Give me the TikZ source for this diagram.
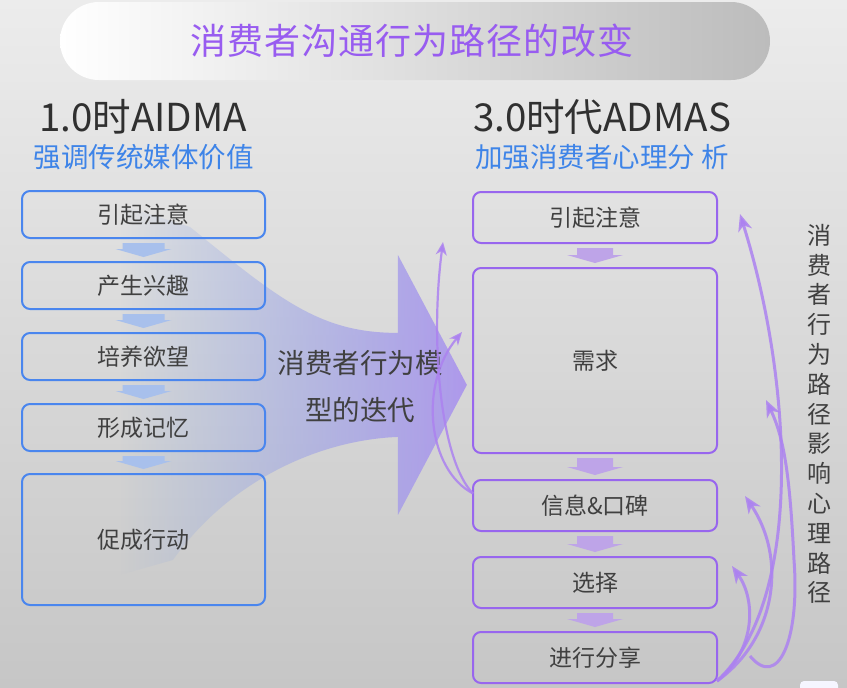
\documentclass[tikz,border=0pt]{standalone}
\usepackage{fontspec}
\setmainfont{Noto Sans CJK SC}
\usetikzlibrary{arrows.meta,calc,fadings}

\definecolor{bgtop}{RGB}{236,236,236}
\definecolor{bgbot}{RGB}{198,198,198}
\definecolor{pillgray}{RGB}{188,188,188}
\definecolor{titlepurple}{RGB}{152,92,240}
\definecolor{headgray}{RGB}{48,48,48}
\definecolor{subblue}{RGB}{62,132,232}
\definecolor{txtgray}{RGB}{64,64,64}
\definecolor{lblue}{RGB}{74,134,238}
\definecolor{rpurple}{RGB}{152,102,238}
\definecolor{larrowc}{RGB}{168,192,236}
\definecolor{rarrowc}{RGB}{190,164,232}
\definecolor{fanblue}{RGB}{125,162,230}
\definecolor{fanmid}{RGB}{134,168,228}
\definecolor{fanpurple}{RGB}{172,150,236}
\definecolor{pline}{RGB}{172,130,240}

\tikzfading[name=fanfade,
  left color=transparent!100,
  middle color=transparent!20,
  right color=transparent!5]

\begin{document}
\begin{tikzpicture}[
  x=1pt, y=-1pt,
  lbox/.style={draw=lblue, line width=2pt, rounded corners=8pt,
    minimum width=243pt, text=txtgray, font=\fontsize{23}{26}\selectfont},
  rbox/.style={draw=rpurple, line width=2pt, rounded corners=8pt,
    minimum width=244pt, text=txtgray, font=\fontsize{23}{26}\selectfont},
  larrow/.style={fill=larrowc},
  rarrow/.style={fill=rarrowc},
  parrow/.style={draw=pline, draw opacity=0.85, line width=2.2pt,
    -{Stealth[length=13pt,width=11pt,inset=4pt]}},
  bigparrow/.style={draw=pline, draw opacity=0.85, line width=3pt,
    -{Stealth[length=17pt,width=14pt,inset=5pt]}}
  ]
  \useasboundingbox (0,0) rectangle (847,688);
  \shade[top color=bgtop, bottom color=bgbot] (0,0) rectangle (847,688);

  % title
  \shade[left color=white, right color=pillgray, rounded corners=39pt]
    (60,2) rectangle (770,80);
  \node[text=titlepurple, font=\fontsize{36}{40}\selectfont] (title) at (412,41)
    {\addfontfeature{LetterSpace=3}消费者沟通行为路径的改变};

  % headers
  \node[text=headgray, font=\fontsize{38.5}{42}\selectfont] (lhead) at (143,117) {1.0时AIDMA};
  \node[text=subblue, font=\fontsize{27.5}{30}\selectfont] (lsub) at (144,157) {强调传统媒体价值};
  \node[text=headgray, font=\fontsize{38.5}{42}\selectfont] (rhead) at (602,117) {3.0时代ADMAS};
  \node[text=subblue, font=\fontsize{27.5}{30}\selectfont] (rsub) at (602,157) {加强消费者心理分 析};

  % fan arrow
  \shade[left color=fanblue, middle color=fanmid, right color=fanpurple,
    path fading=fanfade]
    (120,205) -- (190,227) .. controls (280,300) and (320,333) .. (398,333)
    -- (398,255) -- (467,385) -- (398,515) -- (398,437)
    .. controls (320,440) and (230,480) .. (173,560) -- (120,575) -- cycle;
  \node[text=txtgray, align=center, font=\fontsize{27.5}{47}\selectfont] (fantext)
    at (360,387) {消费者行为模\\型的迭代};

  % left column
  \node[lbox, minimum height=47pt] (l1) at (143.5,214.5) {引起注意};
  \node[lbox, minimum height=47pt] (l2) at (143.5,285.5) {产生兴趣};
  \node[lbox, minimum height=47pt] (l3) at (143.5,356.5) {培养欲望};
  \node[lbox, minimum height=47pt] (l4) at (143.5,427.5) {形成记忆};
  \node[lbox, minimum height=131pt] (l5) at (143.5,539.5) {促成行动};

  % right column
  \node[rbox, minimum height=51pt] (r1) at (595,217.5) {引起注意};
  \node[rbox, minimum height=185pt] (r2) at (595,360.5) {需求};
  \node[rbox, minimum height=51pt] (r3) at (595,505.5) {信息\&口碑};
  \node[rbox, minimum height=51pt] (r4) at (595,582.5) {选择};
  \node[rbox, minimum height=51pt] (r5) at (595,657.5) {进行分享};

  \foreach \a/\b in {l1/l2,l2/l3,l3/l4,l4/l5}
    \fill[larrow] ($(\a.south)+(-21,4)$) -- ($(\a.south)+(21,4)$)
      -- ($(\b.north)+(21,-12)$) -- ($(\b.north)+(28,-12)$) -- ($(\b.north)+(0,-4)$)
      -- ($(\b.north)+(-28,-12)$) -- ($(\b.north)+(-21,-12)$) -- cycle;
  \foreach \a/\b in {r1/r2,r2/r3,r3/r4,r4/r5}
    \fill[rarrow] ($(\a.south)+(-18,4)$) -- ($(\a.south)+(18,4)$)
      -- ($(\b.north)+(18,-12)$) -- ($(\b.north)+(28,-12)$) -- ($(\b.north)+(0,-4)$)
      -- ($(\b.north)+(-28,-12)$) -- ($(\b.north)+(-18,-12)$) -- cycle;

  % feedback arrows
  \coordinate (fromr3) at ($(r3.west)+(1,-12)$);
  \coordinate (fromr5) at ($(r5.south east)+(-1,-3)$);
  \coordinate (tipa) at (443,242);
  \coordinate (tipb) at (462,332);
  \coordinate (tipc) at (740,214);
  \coordinate (tipd) at (766,400);
  \coordinate (tipe) at (745,496);
  \coordinate (tipf) at (732,566);
  \coordinate (loopstart) at (750,656);
  \draw[parrow] (fromr3) .. controls (440,460) and (430,340) .. (tipa);
  \draw[parrow] (fromr3) .. controls (428,470) and (418,385) .. (tipb);
  \draw[bigparrow] (fromr5) .. controls (805,600) and (792,380) .. (tipc);
  \draw[bigparrow] (loopstart) .. controls (778,690) and (800,640) .. (794,560)
    .. controls (790,480) and (785,440) .. (tipd);
  \draw[bigparrow] (fromr5) .. controls (775,640) and (788,560) .. (tipe);
  \draw[bigparrow] (fromr5) .. controls (756,650) and (756,600) .. (tipf);

  % side text
  \node[text=txtgray, align=center, font=\fontsize{24}{29.8}\selectfont] (vtext) at (819,414)
    {消\\费\\者\\行\\为\\路\\径\\影\\响\\心\\理\\路\\径};

  \fill[white!96!blue, rounded corners=4pt] (800,681) rectangle (838,696);
\end{tikzpicture}
\end{document}
